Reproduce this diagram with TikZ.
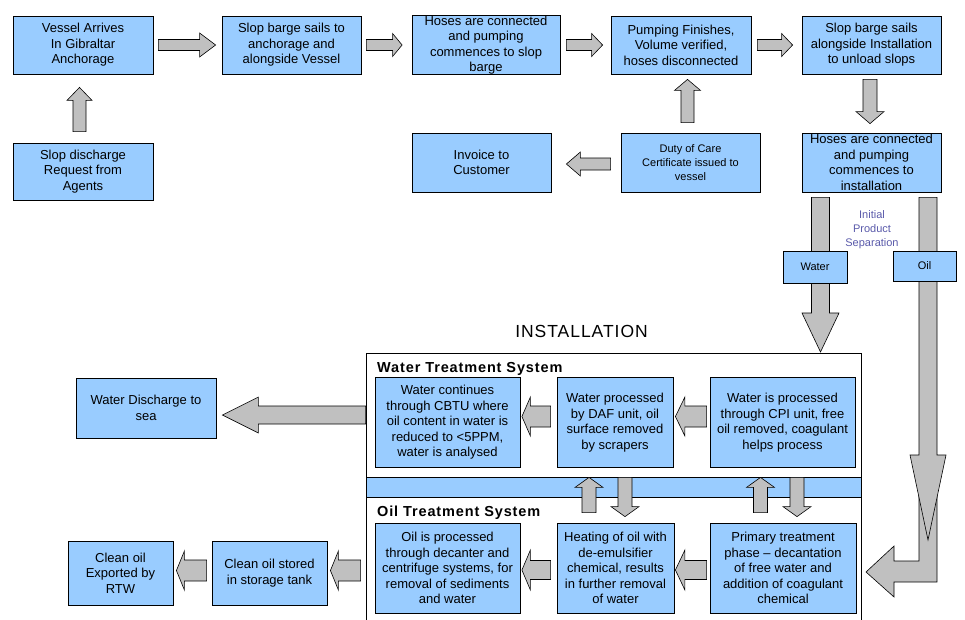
\documentclass[tikz,border=0pt]{standalone}
\usepackage{fontspec}
\setmainfont{Liberation Sans}
\usetikzlibrary{calc}
\definecolor{boxblue}{HTML}{99CCFF}
\definecolor{arrgray}{HTML}{C0C0C0}
\definecolor{sepblue}{HTML}{5A5AAA}

% block arrow from #1 to #2: shaft half-width #3, head half-width #4, head length #5
\newcommand\blockarrow[5]{%
  \path let \p1=#1, \p2=#2 in \pgfextra{%
    \pgfmathsetmacro\baang{atan2(\y2-\y1,\x2-\x1)}%
    \pgfmathsetmacro\balen{veclen(\x2-\x1,\y2-\y1)}%
    \pgfmathsetmacro\bax{\x1}%
    \pgfmathsetmacro\bay{\y1}%
    \xdef\baang{\baang}\xdef\balen{\balen}\xdef\bax{\bax}\xdef\bay{\bay}};
  \draw[blockarr,shift={(\bax pt,\bay pt)},rotate=\baang]
    (0,#3) -- (\balen-#5,#3) -- (\balen-#5,#4) -- (\balen,0)
    -- (\balen-#5,-#4) -- (\balen-#5,-#3) -- (0,-#3) -- cycle;}

\begin{document}
\begin{tikzpicture}[x=1pt,y=-1pt,
  box/.style={draw=black,line width=0.8pt,fill=boxblue,align=center,inner sep=0pt,
    font=\fontsize{13}{15.5}\selectfont},
  smallbox/.style={box,font=\fontsize{11}{14}\selectfont},
  blockarr/.style={draw=black,line width=0.6pt,fill=arrgray,line join=miter},
  frame/.style={draw=black,line width=0.8pt},
  systitle/.style={anchor=west,inner sep=0pt,font=\bfseries\fontsize{14.5}{17}\selectfont\addfontfeature{LetterSpace=6}}]

\useasboundingbox (0,0) rectangle (965,619);

% ---------- installation frame ----------
\coordinate (instTL) at (366,353);
\coordinate (instTR) at (861,353);
\draw[frame] (366,630) -- (instTL) -- (instTR) -- (861,630);
\draw[frame,fill=boxblue] (366,477) rectangle (861,497);
\node[font=\fontsize{17.5}{20}\selectfont\addfontfeature{LetterSpace=5.5}] (instl) at (581.5,331) {INSTALLATION};
\node[systitle] (wts) at (377,369) {Water Treatment System};
\node[systitle] (ots) at (377,513) {Oil Treatment System};

% ---------- top row ----------
\node[box,minimum width=140pt,minimum height=58pt] (v1) at (83,45) {Vessel Arrives\\In Gibraltar\\Anchorage};
\node[box,minimum width=139pt,minimum height=58pt] (v2) at (291.5,45) {Slop barge sails to\\anchorage and\\alongside Vessel};
\node[box,minimum width=148pt,minimum height=58pt] (v3) at (486,45) {Hoses are connected\\and pumping\\commences to slop\\barge};
\node[box,minimum width=140pt,minimum height=58pt] (v4) at (681,45) {Pumping Finishes,\\Volume verified,\\hoses disconnected};
\node[box,minimum width=139pt,minimum height=58pt] (v5) at (871.5,45) {Slop barge sails\\alongside Installation\\to unload slops};

% ---------- second row ----------
\node[box,minimum width=140pt,minimum height=57pt] (req) at (83,171.5) {Slop discharge\\Request from\\Agents};
\node[box,minimum width=139pt,minimum height=59pt] (inv) at (481.5,162.5) {Invoice to\\Customer};
\node[smallbox,minimum width=139pt,minimum height=59pt] (duty) at (690.5,162.5) {Duty of Care\\Certificate issued to\\vessel};
\node[box,minimum width=139pt,minimum height=59pt] (hos2) at (871.5,162.5) {Hoses are connected\\and pumping\\commences to\\installation};

% ---------- water treatment ----------
\node[box,minimum width=145pt,minimum height=90pt] (cbtu) at (447.5,422.5) {Water continues\\through CBTU where\\oil content in water is\\reduced to <5PPM,\\water is analysed};
\node[box,minimum width=116pt,minimum height=90pt] (daf) at (615,422.5) {Water processed\\by DAF unit, oil\\surface removed\\by scrapers};
\node[box,minimum width=145pt,minimum height=90pt] (cpi) at (782.5,422.5) {Water is processed\\through CPI unit, free\\oil removed, coagulant\\helps process};

% ---------- oil treatment ----------
\node[box,minimum width=145pt,minimum height=90pt] (oilp) at (447.5,568) {Oil is processed\\through decanter and\\centrifuge systems, for\\removal of sediments\\and water};
\node[box,minimum width=117pt,minimum height=90pt] (heat) at (615.5,568) {Heating of oil with\\de-emulsifier\\chemical, results\\in further removal\\of water};
\node[box,minimum width=146pt,minimum height=90pt] (prim) at (783,568) {Primary treatment\\phase -- decantation\\of free water and\\addition of coagulant\\chemical};

% ---------- outside, left ----------
\node[box,minimum width=140pt,minimum height=60pt] (wd) at (146,408) {Water Discharge to\\sea};
\node[box,minimum width=105pt,minimum height=64pt] (exp) at (120.5,573) {Clean oil\\Exported by\\RTW};
\node[box,minimum width=115pt,minimum height=64pt] (stor) at (269.5,573) {Clean oil stored\\in storage tank};

% ---------- arrows, top ----------
\blockarrow{($(v1.east)+(5,0)$)}{($(v2.west)+(-6,0)$)}{5.5}{12}{16}
\blockarrow{($(v2.east)+(5,0)$)}{($(v3.west)+(-9.5,0)$)}{5.5}{11.5}{9.5}
\blockarrow{($(v3.east)+(6,0)$)}{($(v4.west)+(-8,0)$)}{5.5}{11.5}{11}
\blockarrow{($(v4.east)+(6,0)$)}{($(v5.west)+(-9,0)$)}{5.5}{11.5}{11}
\blockarrow{($(req.north)+(-3.5,-11)$)}{($(v1.south)+(-3.5,13)$)}{6.5}{12.5}{13}
\blockarrow{($(duty.north)+(-3,-10)$)}{($(v4.south)+(6.5,5)$)}{6.5}{13}{11}
\blockarrow{($(duty.west)+(-10,1.5)$)}{($(inv.east)+(15,1.5)$)}{6}{12}{14}
\blockarrow{($(v5.south)+(-1.5,5)$)}{($(hos2.north)+(-1.5,-9)$)}{7}{14}{12}

% ---------- separation arrows ----------
\coordinate (wtip) at (820.5,352);
\blockarrow{($(hos2.south)+(-51,5)$)}{(wtip)}{9}{18.5}{39}
\coordinate (ltip) at (866,572);
\draw[blockarr] (919,460) -- (919,561) -- (894,561) -- (894,546) -- (ltip)
  -- (894,597) -- (894,582) -- (937,582) -- (937,460) -- cycle;
\coordinate (otip) at (928,540);
\blockarrow{($(hos2.south)+(56.5,5)$)}{(otip)}{9}{18}{85}
\node[smallbox,minimum width=64pt,minimum height=32pt] (wlab) at (815,267) {Water};
\node[smallbox,minimum width=63pt,minimum height=30pt] (olab) at (924.5,266) {Oil};
\node[align=center,text=sepblue,font=\fontsize{11}{14}\selectfont] (sep) at (872,230) {Initial\\Product\\Separation};

% ---------- arrows inside installation ----------
\blockarrow{($(daf.west)+(-6,-6)$)}{($(cbtu.east)+(1.5,-6)$)}{10.5}{19.5}{8.5}
\blockarrow{($(cpi.west)+(-3,-6)$)}{($(daf.east)+(2,-6)$)}{10.5}{19.5}{9.5}
\blockarrow{($(heat.west)+(-6,2)$)}{($(oilp.east)+(1.5,2)$)}{9.5}{20}{8.5}
\blockarrow{($(prim.west)+(-3,2)$)}{($(heat.east)+(1,2)$)}{9.5}{20}{9.5}
\blockarrow{($(heat.north)+(-26.5,-10)$)}{($(daf.south)+(-26,9.5)$)}{7}{14}{10}
\blockarrow{($(daf.south)+(10,9.5)$)}{($(heat.north)+(9.5,-6)$)}{7}{14}{10}
\blockarrow{($(prim.north)+(-22.5,-10)$)}{($(cpi.south)+(-22,9.5)$)}{7}{14}{10}
\blockarrow{($(cpi.south)+(14.5,9.5)$)}{($(prim.north)+(14,-6)$)}{7}{14}{10}

% ---------- arrows out of installation ----------
\blockarrow{($(cbtu.west)+(-9,-7.5)$)}{($(wd.east)+(6,7)$)}{9}{18}{36}
\blockarrow{($(oilp.west)+(-14,2.5)$)}{($(stor.east)+(3,-2.5)$)}{10.5}{19.5}{8}
\blockarrow{($(stor.west)+(-5,-2.5)$)}{($(exp.east)+(3,-2.5)$)}{10.5}{19.5}{8}

\end{tikzpicture}
\end{document}
